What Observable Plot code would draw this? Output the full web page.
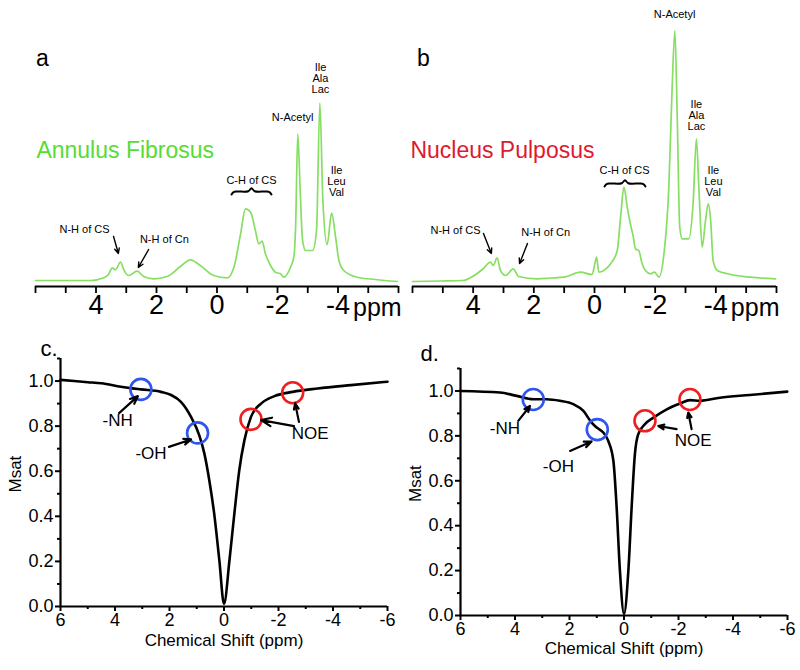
<!DOCTYPE html>
<html><head><meta charset="utf-8">
<script src="https://cdn.jsdelivr.net/npm/d3@7"></script>
<script src="https://cdn.jsdelivr.net/npm/@observablehq/plot@0.6"></script>
<style>
body{margin:0;background:#fff;}
#fig{position:relative;width:800px;height:670px;overflow:hidden;font-family:"Liberation Sans",Arial,sans-serif;}
#fig svg{position:absolute;}
</style></head><body><div id="fig"></div>
<script>
// ---------- Panel a: Annulus Fibrosus spectrum ----------
const ppmA = [6.00,5.17,4.18,3.74,3.59,3.46,3.36,3.19,3.08,2.92,2.64,2.42,2.09,1.65,1.21,0.88,0.55,0.11,-0.34,-0.56,-0.78,-0.94,-1.11,-1.27,-1.38,-1.49,-1.60,-1.77,-1.93,-2.10,-2.21,-2.43,-2.54,-2.60,-2.67,-2.75,-2.83,-2.93,-3.16,-3.29,-3.40,-3.50,-3.64,-3.79,-3.92,-4.03,-4.19,-4.63,-5.24,-5.96];
const intA = [1,1,1,3.7,7,13.7,11.7,19.3,11.7,6,10.3,5,2.7,5,15,21.7,16,6,3.7,14.3,47.7,72.7,69.3,51,37.7,40.3,27.7,16,9.3,7.7,4.3,14.3,24.3,56,147.7,91,41,31,31,51,178.3,81,37,68.3,44.3,21,11,4.3,2,0];
const labelsA = ["N-H of CS","N-H of Cn","C-H of CS","N-Acetyl","Ile\nAla\nLac","Ile\nLeu\nVal"];
const labelPpmA = [4.38,1.74,-1.14,-2.50,-3.42,-3.95];
const labelIntA = [52,42,101,164,203,100];
const arrowFromPpmA = [3.42,2.26], arrowFromIntA = [45,32], arrowToPpmA = [3.26,2.60], arrowToIntA = [28,14];
const braceA = [-0.48,-1.80], braceLevelA = 90;

// ---------- Panel b: Nucleus Pulposus spectrum ----------
const ppmB = [6.00,5.08,4.35,3.87,3.66,3.43,3.34,3.21,3.10,2.93,2.68,2.50,1.89,1.45,1.01,0.46,0.08,-0.02,-0.07,-0.14,-0.31,-0.53,-0.75,-0.86,-0.97,-1.08,-1.16,-1.28,-1.35,-1.46,-1.57,-1.68,-1.85,-1.98,-2.12,-2.29,-2.45,-2.56,-2.65,-2.73,-2.81,-2.89,-3.11,-3.25,-3.36,-3.44,-3.55,-3.66,-3.75,-3.83,-3.91,-4.05,-4.38,-5.14,-5.97];
const intB = [0,0.5,1,8,13,19.3,16,23.7,11,6,12.7,5,2.7,3.5,4.3,9.3,7,19,24.3,9.3,11,17.7,31,64.3,94.3,74.3,61,44.3,32.7,31,17.7,11,7.7,9.3,4.3,27.7,94.3,194.3,251,161,54.3,42.7,42.7,77.7,142.7,94.3,34.3,61,77.7,61,21,11,7.7,4.3,2.7];
const labelsB = ["N-H of CS","N-H of Cn","C-H of CS","N-Acetyl","Ile\nAla\nLac","Ile\nLeu\nVal"];
const labelPpmB = [4.58,1.61,-0.99,-2.64,-3.36,-3.92];
const labelIntB = [51,49,111,267,166,100];
const arrowFromPpmB = [3.66,2.21], arrowFromIntB = [48,38], arrowToPpmB = [3.40,2.47], arrowToIntB = [28,18];
const braceB = [-0.33,-1.68], braceLevelB = 98;

const spectrumTicks = [6,5,4,3,2,1,0,-1,-2,-3,-4,-5,-6];
const spectrumLabeled = [4,2,0,-2,-4];

// ---------- Panel c / d: Z-spectra ----------
const shiftC = [6,5,4.5,3.78,3.05,2.31,1.94,1.58,1.21,0.91,0.72,0.54,0.36,0.17,0.0,-0.2,-0.38,-0.56,-0.75,-0.99,-1.36,-1.85,-2.52,-3.44,-4.66,-6];
const msatC = [1.005,0.995,0.99,0.975,0.963,0.952,0.938,0.908,0.841,0.76,0.678,0.56,0.412,0.204,0.012,0.204,0.412,0.604,0.738,0.841,0.90,0.933,0.952,0.967,0.982,0.997];
const shiftD = [6.02,4.55,3.94,3.33,2.84,2.35,1.86,1.49,1.19,1.0,0.76,0.58,0.39,0.27,0.15,0,-0.16,-0.28,-0.4,-0.52,-0.77,-1.08,-1.57,-2.06,-2.42,-2.79,-3.52,-4.62,-5.99];
const msatD = [1.0,0.993,0.978,0.963,0.963,0.956,0.941,0.911,0.859,0.837,0.815,0.778,0.689,0.481,0.2,0.007,0.2,0.481,0.719,0.807,0.852,0.881,0.918,0.944,0.959,0.956,0.970,0.982,0.997];

const circleShiftC = [3.05,0.97,-0.99,-2.52], circleMsatC = [0.963,0.77,0.83,0.948];
const circleShiftD = [3.33,0.98,-0.77,-2.42], circleMsatD = [0.962,0.828,0.867,0.962];
const circleKind = ["exchange","exchange","noe","noe"];

const zLabels = ["-NH","-OH","NOE"];
const zLabelShiftC = [3.9,2.68,-3.16], zLabelMsatC = [0.827,0.68,0.767];
const zLabelShiftD = [4.37,2.41,-2.54], zLabelMsatD = [0.834,0.664,0.778];
const zArrowC = {x1:[3.85,2.02,-2.57,-2.75], y1:[0.858,0.708,0.80,0.819], x2:[3.16,1.21,-1.36,-2.61], y2:[0.933,0.741,0.827,0.901]};
const zArrowD = {x1:[3.88,1.98,-1.93,-2.48], y1:[0.867,0.733,0.83,0.83], x2:[3.45,1.19,-1.26,-2.36], y2:[0.933,0.775,0.844,0.904]};

const zMajorX = [6,4,2,0,-2,-4,-6], zMinorX = [5,3,1,-1,-3,-5];
const zMajorY = [0,0.2,0.4,0.6,0.8,1.0], zMinorY = [0.1,0.3,0.5,0.7,0.9,1.1];

// ---------- drawing ----------
const FONT = '"Liberation Sans", Arial, sans-serif';
const fig = document.getElementById("fig");
const sortByX = (xs, ys) => xs.map((x,i)=>({x, y: ys[i]})).sort((a,b)=>a.x-b.x);

function bracePoints(span, level) {
  const [a, b] = span;
  const shape = [[0,-3],[0.05,-0.6],[0.14,0],[0.42,0.3],[0.5,3.2],[0.58,0.3],[0.86,0],[0.95,-0.6],[1,-3]];
  return shape.map(([t, h]) => ({x: a + (b - a) * t, y: level + h}));
}

function spectrum(o) {
  const data = sortByX(o.ppm, o.inten);
  const labels = o.labels.map((t,i)=>({t, x:o.lx[i], y:o.ly[i]}));
  const arrows = o.ax1.map((v,i)=>({x1:v, y1:o.ay1[i], x2:o.ax2[i], y2:o.ay2[i]}));
  const svg = Plot.plot({
    width: 400, height: 320,
    marginLeft: o.ml, marginRight: o.mr, marginTop: 20, marginBottom: 34,
    x: {domain: [6, -6], axis: null},
    y: {domain: [-5, 261], axis: null},
    style: {fontFamily: FONT, background: "none", overflow: "visible", color: "black"},
    marks: [
      Plot.line(data, {x: "x", y: "y", stroke: "#86df62", strokeWidth: 1.7, curve: "monotone-x"}),
      Plot.ruleY([-5], {stroke: "black", strokeWidth: 2.2}),
      Plot.axisX({ticks: spectrumTicks, tickSize: 7, strokeWidth: 1.8, tickPadding: 1, fontSize: 27, label: null,
        tickFormat: d => spectrumLabeled.includes(d) ? String(d) : ""}),
      Plot.text(["ppm"], {x: -4, y: -5, text: d => d, dx: 15, dy: 21, textAnchor: "start", fontSize: 25}),
      Plot.text(labels, {x: "x", y: "y", text: "t", fontSize: 11, lineHeight: 1.0, fill: "black"}),
      Plot.arrow(arrows, {x1: "x1", y1: "y1", x2: "x2", y2: "y2", stroke: "black", strokeWidth: 1.4, headLength: 6, headAngle: 50}),
      Plot.line(bracePoints(o.brace, o.braceLevel), {x: "x", y: "y", stroke: "black", strokeWidth: 2, curve: "catmull-rom"}),
      Plot.text([o.letter], {x: o.letterX, y: 223, text: d => d, fontSize: 23}),
      Plot.text([o.title], {x: o.titleX, y: 131, text: d => d, fontSize: 23, textAnchor: "start", fill: o.titleColor})
    ]
  });
  svg.style.left = o.left + "px"; svg.style.top = "0px";
  fig.appendChild(svg);
}

function zspec(o) {
  const data = sortByX(o.shift, o.msat);
  const circles = o.cx.map((x,i)=>({x, y:o.cy[i], k: circleKind[i]}));
  const labels = zLabels.map((t,i)=>({t, x:o.lx[i], y:o.ly[i]}));
  const arrows = o.arr.x1.map((v,i)=>({x1:v, y1:o.arr.y1[i], x2:o.arr.x2[i], y2:o.arr.y2[i]}));
  const svg = Plot.plot({
    width: 400, height: 350,
    marginLeft: 60, marginRight: 13, marginTop: o.mt, marginBottom: o.mb,
    x: {domain: [6, -6], axis: null},
    y: {domain: [0, 1.1], axis: null},
    style: {fontFamily: FONT, background: "none", overflow: "visible", color: "black"},
    marks: [
      Plot.ruleY([0], {stroke: "black", strokeWidth: 2.2}),
      Plot.ruleX([6], {stroke: "black", strokeWidth: 2.2}),
      Plot.axisX({ticks: zMajorX, tickSize: 5, strokeWidth: 2, tickPadding: 2, fontSize: 18, label: null, tickFormat: d => String(d)}),
      Plot.axisX({ticks: zMinorX, tickSize: 3, strokeWidth: 2, label: null, tickFormat: () => ""}),
      Plot.axisY({ticks: zMajorY, tickSize: 5, strokeWidth: 2, tickPadding: 2, fontSize: 18, label: null, tickFormat: d3.format(".1f")}),
      Plot.axisY({ticks: zMinorY, tickSize: 3, strokeWidth: 2, label: null, tickFormat: () => ""}),
      Plot.line(data, {x: "x", y: "y", stroke: "black", strokeWidth: 2.6, curve: "monotone-x"}),
      Plot.dot(circles, {x: "x", y: "y", r: 10.5, fill: "none", strokeWidth: 2.6,
        stroke: d => d.k === "noe" ? "#f01e1e" : "#2f55ee"}),
      Plot.arrow(arrows, {x1: "x1", y1: "y1", x2: "x2", y2: "y2", stroke: "black", strokeWidth: 2.2, headLength: 8, headAngle: 45}),
      Plot.text(labels, {x: "x", y: "y", text: "t", fontSize: 17}),
      Plot.text(["Chemical Shift (ppm)"], {frameAnchor: "bottom", text: d => d, dy: o.xlabDy, fontSize: 17}),
      Plot.text(["Msat"], {frameAnchor: "left", text: d => d, dx: -45, dy: o.ylabDy, rotate: -90, fontSize: 17}),
      Plot.text([o.letter], {frameAnchor: "top-left", text: d => d, dx: o.letterDx, dy: o.letterDy, fontSize: 22})
    ]
  });
  svg.style.left = o.left + "px"; svg.style.top = "320px";
  fig.appendChild(svg);
}

spectrum({ppm: ppmA, inten: intA, left: 0, ml: 35, mr: 2, labels: labelsA, lx: labelPpmA, ly: labelIntA,
  ax1: arrowFromPpmA, ay1: arrowFromIntA, ax2: arrowToPpmA, ay2: arrowToIntA, brace: braceA, braceLevel: braceLevelA,
  letter: "a", letterX: 5.77, title: "Annulus Fibrosus", titleX: 5.97, titleColor: "#55dd33"});
spectrum({ppm: ppmB, inten: intB, left: 400, ml: 12, mr: 24, labels: labelsB, lx: labelPpmB, ly: labelIntB,
  ax1: arrowFromPpmB, ay1: arrowFromIntB, ax2: arrowToPpmB, ay2: arrowToIntB, brace: braceB, braceLevel: braceLevelB,
  letter: "b", letterX: 5.64, title: "Nucleus Pulposus", titleX: 6.07, titleColor: "#e0192e"});
zspec({shift: shiftC, msat: msatC, cx: circleShiftC, cy: circleMsatC, lx: zLabelShiftC, ly: zLabelMsatC, arr: zArrowC,
  left: 0, mt: 38, mb: 64, xlabDy: 39, ylabDy: 10, letter: "c.", letterDx: -20, letterDy: -18});
zspec({shift: shiftD, msat: msatD, cx: circleShiftD, cy: circleMsatD, lx: zLabelShiftD, ly: zLabelMsatD, arr: zArrowD,
  left: 400, mt: 48, mb: 55, xlabDy: 38, ylabDy: 10, letter: "d.", letterDx: -40, letterDy: -23});
</script></body></html>
